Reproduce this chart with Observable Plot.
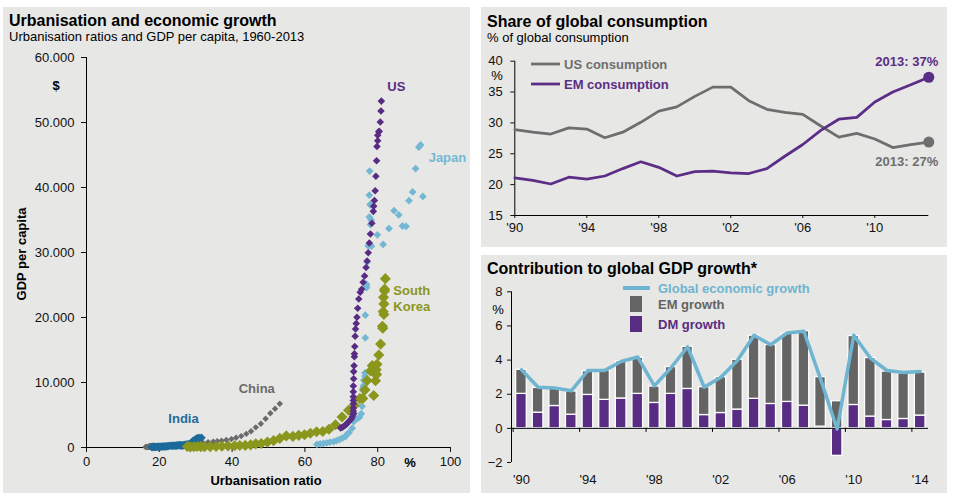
<!DOCTYPE html>
<html><head><meta charset="utf-8">
<script src="https://cdn.jsdelivr.net/npm/d3@7"></script>
<script src="https://cdn.jsdelivr.net/npm/@observablehq/plot@0.6"></script>
<style>
body{margin:0;background:#fff;font-family:"Liberation Sans",Arial,sans-serif;}
#root{position:relative;width:956px;height:504px;overflow:hidden;background:#fff;}
.panel{position:absolute;background:#e7e7e5;}
.chart{position:absolute;}
#overlay{position:absolute;left:0;top:0;pointer-events:none;}
</style></head><body>
<div id="root">
  <div class="panel" style="left:3px;top:7px;width:467px;height:486px"></div>
  <div class="panel" style="left:481px;top:7px;width:466px;height:240px"></div>
  <div class="panel" style="left:481px;top:255px;width:466px;height:238px"></div>
  <div class="chart" id="c1" style="left:0;top:0"></div>
  <div class="chart" id="c2" style="left:481px;top:7px"></div>
  <div class="chart" id="c3" style="left:481px;top:255px"></div>
</div>
<script>
// ---------- Urbanisation vs GDP per capita, 1960-2013 ----------
const usUrb = [69.8,70.2,70.6,71.0,71.4,71.8,72.3,72.7,73.0,73.2, 73.4,73.3,73.3,73.3,73.3,73.3,73.3,73.3,73.4,73.4, 73.5,73.6,73.6,73.7,73.8,73.9,74.1,74.3,74.5,74.8, 75.2,75.6,76.0,76.4,76.8,77.1,77.4,77.7,78.0,78.4, 78.8,78.9,79.1,79.3,79.5,79.7,79.8,80.0,80.3,80.0, 80.4,80.7,80.9,81.0];
const usGdp = [3007,3067,3244,3375,3574,3828,4146,4336,4696,5032, 5234,5609,6094,6726,7226,7801,8592,9453,10565,11674, 12575,13976,14434,15544,17121,18237,19071,20039,21417,22857, 23889,24342,25419,26387,27695,28691,29968,31459,32854,34515, 36330,37134,37998,39490,41725,44123,46302,48050,48570,47195, 48651,50066,51784,53291];
const jpUrb = [63.3,64.2,65.1,66.0,66.9,67.9,68.7,69.5,70.3,71.1, 71.6,72.1,73.0,73.4,74.2,75.0,75.5,75.7,75.9,76.0, 76.1,76.2,76.3,76.4,76.5,76.5,76.6,76.6,76.9,76.9, 76.9,77.1,77.4,77.7,77.7,77.8,78.0,78.0,78.3,78.2, 78.0,79.9,81.5,83.1,84.5,85.8,86.8,87.8,88.6,89.6, 90.4,91.3,91.8,92.4];
const jpGdp = [479,564,634,718,835,920,1058,1228,1450,1669, 2037,2272,2967,3998,4354,4659,5197,6335,8821,9105, 9465,10361,9578,10425,10976,11465,16882,20355,24593,24823, 25124,28541,31013,35452,38815,42522,37423,34304,30969,35004, 37300,32716,31236,33691,36442,35781,34077,34034,37972,39323, 42909,46204,46548,38634];
const krUrb = [27.7,28.5,29.5,30.4,31.4,32.4,34.0,35.6,37.2,38.9, 40.7,42.1,43.6,45.1,46.5,48.0,49.7,51.4,53.1,54.9, 56.7,58.3,59.9,61.5,63.2,64.9,66.6,68.4,70.2,72.0, 73.6,75.1,75.9,76.5,77.1,78.0,78.5,78.9,78.9,79.4, 79.6,79.7,79.8,80.3,80.8,81.3,81.5,81.6,81.7,81.4, 81.7,81.9,81.9,82.1];
const krGdp = [158,94,106,146,124,109,133,161,198,243, 279,301,324,406,563,615,830,1051,1399,1784, 1704,1870,1973,2198,2413,2457,2803,3511,4686,5738, 6516,7523,7555,8870,10310,11780,12590,11580,8000,10280, 11950,11250,12790,14220,15910,18640,20920,23100,20480,18340, 22090,24080,24360,25980];
const cnUrb = [16.2,16.6,17.0,16.8,18.0,18.1,17.9,17.7,17.6,17.5, 17.4,17.3,17.2,17.2,17.2,17.3,17.4,17.6,17.9,19.0, 19.4,20.2,21.1,21.6,23.0,22.9,24.5,25.3,25.8,26.2, 26.4,27.0,27.5,28.0,28.5,29.0,30.5,31.9,33.4,34.8, 35.9,37.1,38.4,39.8,41.1,42.5,43.9,45.2,46.5,47.9, 49.2,50.5,51.8,53.1];
const cnGdp = [90,76,70,74,85,98,104,97,91,100, 112,119,132,157,160,178,165,185,156,184, 195,197,203,225,250,294,281,251,283,310, 318,333,366,377,473,610,709,782,829,873, 959,1053,1149,1289,1509,1753,2099,2500,3100,3640, 4410,5280,5950,6720];
const inUrb = [17.9,18.0,18.1,18.2,18.4,18.6,18.8,19.0,19.2,19.5, 19.8,20.1,20.4,20.7,21.0,21.3,21.6,21.9,22.2,22.6, 23.1,23.5,23.8,24.1,24.4,24.7,24.9,25.2,25.5,25.7, 25.8,26.0,26.2,26.4,26.6,26.8,27.0,27.2,27.4,27.6, 27.7,27.9,28.1,28.4,28.6,28.8,29.0,29.3,29.5,29.8, 30.1,30.6,31.1,31.6];
const inGdp = [82,85,90,101,116,119,90,96,99,107, 112,118,123,144,163,158,161,186,206,224, 267,271,275,291,277,296,310,340,354,346, 368,303,317,301,346,374,400,415,413,442, 452,460,473,546,627,714,806,1028,999,1102, 1358,1460,1450,1500];
const urbTicks = [0,20,40,60,80,100];
const gdpTicks = [0,10000,20000,30000,40000,50000,60000];

// ---------- Share of global consumption ----------
const consYears = [1990,1991,1992,1993,1994,1995,1996,1997,1998,1999,2000,2001,2002,2003,2004,2005,2006,2007,2008,2009,2010,2011,2012,2013];
const usConsumption = [28.9,28.5,28.2,29.2,29.0,27.6,28.5,30.1,31.9,32.6,34.3,35.8,35.8,33.6,32.2,31.7,31.4,29.5,27.7,28.3,27.4,26.0,26.5,26.9];
const emConsumption = [21.1,20.7,20.1,21.2,20.9,21.4,22.6,23.7,22.8,21.4,22.1,22.2,21.9,21.8,22.6,24.6,26.5,28.8,30.6,30.9,33.4,35.0,36.2,37.4];
const consXTicks = [1990,1994,1998,2002,2006,2010];
const consYTicks = [15,20,25,30,35,40];

// ---------- Contribution to global GDP growth ----------
const barYears = [1990,1991,1992,1993,1994,1995,1996,1997,1998,1999,2000,2001,2002,2003,2004,2005,2006,2007,2008,2009,2010,2011,2012,2013,2014];
const dmGrowth = [2.02,0.92,1.31,0.80,1.96,1.67,1.75,2.02,1.49,2.02,2.31,0.78,0.90,1.10,1.73,1.43,1.55,1.33,0.10,-1.61,1.37,0.69,0.49,0.55,0.75];
const emGrowth = [1.41,1.45,1.06,1.36,1.39,1.72,2.17,2.12,0.96,1.57,2.47,1.63,2.10,2.92,3.70,3.45,4.00,4.36,2.90,1.59,4.04,3.43,2.84,2.65,2.52];
const globalGrowth = [3.43,2.41,2.37,2.20,3.39,3.39,3.92,4.18,2.49,3.55,4.78,2.41,3.00,3.98,5.45,4.90,5.59,5.69,2.90,-0.04,5.45,4.12,3.39,3.27,3.33];
const barXTicks = [1990,1994,1998,2002,2006,2010,2014];
const barYTicks = [-2,0,2,4,6,8];

// ---------- colours ----------
const C = {us:"#582c83", jp:"#74b7d3", kr:"#8a961c", cn:"#6b6b6b", in:"#1d6b9b",
           usCons:"#6e6e6e", emCons:"#5b2d86", em:"#646464", dm:"#582c83", glob:"#6fb4d0"};
const FONT = '"Liberation Sans", Arial, sans-serif';
const baseStyle = {background:"transparent", fontFamily:FONT, fontSize:"13px", color:"#111", overflow:"visible"};

const pts = (u,g) => u.map((v,i)=>({u:v, g:g[i]}));
const US = pts(usUrb,usGdp), JP = pts(jpUrb,jpGdp), KR = pts(krUrb,krGdp), CN = pts(cnUrb,cnGdp), IN = pts(inUrb,inGdp);
const fmtDot = d3.formatLocale({decimal:",", thousands:".", grouping:[3], currency:["",""]}).format(",");
const lastOf = a => [a[a.length-1]];
const lbl = {fontSize:13, fontWeight:"bold"};

const p1 = Plot.plot({
  width:470, height:493, marginLeft:86, marginRight:20, marginTop:57, marginBottom:46,
  style: baseStyle,
  x:{domain:[0,100]}, y:{domain:[0,60000]},
  marks:[
    Plot.axisY({ticks:gdpTicks, tickFormat:fmtDot, tickSize:5, tickPadding:7, label:null}),
    Plot.axisX({ticks:urbTicks, tickSize:5, tickPadding:4, label:null}),
    Plot.ruleX([urbTicks[0]], {stroke:"#000"}),
    Plot.ruleY([gdpTicks[0]], {stroke:"#000"}),
    Plot.dot(CN, {x:"u", y:"g", symbol:"diamond2", r:2.9, fill:C.cn}),
    Plot.dot(IN, {x:"u", y:"g", symbol:"diamond2", r:3.8, fill:C.in}),
    Plot.dot(JP, {x:"u", y:"g", symbol:"diamond2", r:3.5, fill:C.jp}),
    Plot.dot(KR, {x:"u", y:"g", symbol:"diamond2", r:5, fill:C.kr}),
    Plot.dot(US, {x:"u", y:"g", symbol:"diamond2", r:3.4, fill:C.us}),
    Plot.text(lastOf(US), {x:"u", y:"g", text:()=>"US", dx:6, dy:-14, textAnchor:"start", fill:C.us, ...lbl}),
    Plot.text([JP[JP.length-2]], {x:"u", y:"g", text:()=>"Japan", dx:8, dy:13, textAnchor:"start", fill:C.jp, ...lbl}),
    Plot.text(lastOf(KR), {x:"u", y:"g", text:()=>"South\nKorea", dx:8, dy:19, lineHeight:1.28, textAnchor:"start", fill:C.kr, ...lbl}),
    Plot.text(lastOf(CN), {x:"u", y:"g", text:()=>"China", dx:-23, dy:-15, textAnchor:"middle", fill:C.cn, ...lbl}),
    Plot.text(lastOf(IN), {x:"u", y:"g", text:()=>"India", dx:-18, dy:-19, textAnchor:"middle", fill:C.in, ...lbl})
  ]
});
document.getElementById("c1").appendChild(p1);

const US_C = consYears.map((y,i)=>({year:y, v:usConsumption[i]}));
const EM_C = consYears.map((y,i)=>({year:y, v:emConsumption[i]}));
const yy = d => "'" + String(d).slice(2);
const p2 = Plot.plot({
  width:466, height:240, marginLeft:33.3, marginRight:18.7, marginTop:53.7, marginBottom:32,
  style: baseStyle,
  x:{domain:[consYears[0], consYears[consYears.length-1]]}, y:{domain:[consYTicks[0], consYTicks[consYTicks.length-1]]},
  marks:[
    Plot.axisY({ticks:consYTicks, tickSize:4, tickPadding:8, label:null}),
    Plot.axisX({ticks:consXTicks, tickFormat:yy, tickSize:3, tickPadding:4, label:null}),
    Plot.ruleX([consYears[0]], {stroke:"#000"}),
    Plot.ruleY([consYTicks[0]], {stroke:"#000"}),
    Plot.line(US_C, {x:"year", y:"v", stroke:C.usCons, strokeWidth:2.75}),
    Plot.line(EM_C, {x:"year", y:"v", stroke:C.emCons, strokeWidth:2.75}),
    Plot.dot(lastOf(US_C), {x:"year", y:"v", r:5.5, fill:C.usCons}),
    Plot.dot(lastOf(EM_C), {x:"year", y:"v", r:5.5, fill:C.emCons}),
    Plot.text(lastOf(EM_C), {x:"year", y:"v", text:d=>"2013: "+Math.round(d.v)+"%", dx:-22, dy:-15, textAnchor:"middle", fill:C.emCons, ...lbl}),
    Plot.text(lastOf(US_C), {x:"year", y:"v", text:d=>"2013: "+Math.round(d.v)+"%", dx:-22, dy:20, textAnchor:"middle", fill:C.usCons, ...lbl})
  ]
});
document.getElementById("c2").appendChild(p2);

const BARS = barYears.map((y,i)=>({year:y, dm:dmGrowth[i], em:emGrowth[i], g:globalGrowth[i]}));
const xDom = [barYears[0]-0.6, barYears[barYears.length-1]+0.5];
const half = 0.32;
const boundaries = barYears.filter((d,i)=>i%4===0).map(d=>d-0.5);
const p3 = Plot.plot({
  width:466, height:238, marginLeft:30, marginRight:19, marginTop:36.3, marginBottom:31,
  style: baseStyle,
  x:{domain:xDom}, y:{domain:[barYTicks[0], barYTicks[barYTicks.length-1]]},
  marks:[
    Plot.axisY({ticks:barYTicks, tickSize:4, tickPadding:5, label:null}),
    Plot.axisX({ticks:barXTicks, tickFormat:yy, tickSize:0, tickPadding:12, label:null}),
    Plot.ruleX([xDom[0]], {stroke:"#000"}),
    Plot.rect(BARS, {x1:d=>d.year-half, x2:d=>d.year+half, y1:0, y2:"dm", fill:C.dm, stroke:"#fff", strokeWidth:1.3}),
    Plot.rect(BARS, {x1:d=>d.year-half, x2:d=>d.year+half, y1:d=>Math.max(0,d.dm), y2:d=>Math.max(0,d.dm)+d.em, fill:C.em, stroke:"#fff", strokeWidth:1.3}),
    Plot.ruleY([0], {stroke:"#000"}),
    Plot.ruleX(boundaries, {y1:0, y2:0, insetBottom:-4, stroke:"#000"}),
    Plot.line(BARS, {x:"year", y:"g", stroke:C.glob, strokeWidth:3.5})
  ]
});
document.getElementById("c3").appendChild(p3);

// ---------- overlay texts & legends ----------
const svg = d3.select("#root").append("svg").attr("id","overlay").attr("width",956).attr("height",504)
  .style("font-family", FONT);
function t(x,y,s,o={}) {
  const e = svg.append("text").attr("x",x).attr("y",y).text(s)
    .attr("font-size", o.size||13).attr("font-weight", o.bold?"bold":"normal")
    .attr("fill", o.fill||"#000").attr("text-anchor", o.anchor||"start");
  if (o.rotate) e.attr("transform", `rotate(${o.rotate},${x},${y})`);
  return e;
}
t(9,26,"Urbanisation and economic growth",{size:16,bold:true});
t(9,41,"Urbanisation ratios and GDP per capita, 1960-2013",{size:13});
t(56,90,"$",{bold:true,anchor:"middle"});
t(26,254,"GDP per capita",{bold:true,anchor:"middle",rotate:-90});
t(410,467,"%",{bold:true,anchor:"middle"});
t(266,485,"Urbanisation ratio",{bold:true,anchor:"middle"});

t(487,27,"Share of global consumption",{size:16,bold:true});
t(487,42,"% of global consumption",{size:13});
t(497,80,"%",{anchor:"middle"});
svg.append("line").attr("x1",531).attr("x2",560).attr("y1",64).attr("y2",64).attr("stroke",C.usCons).attr("stroke-width",2.75);
t(564,68.5,"US consumption",{bold:true,fill:C.usCons});
svg.append("line").attr("x1",531).attr("x2",560).attr("y1",84).attr("y2",84).attr("stroke",C.emCons).attr("stroke-width",2.75);
t(564,88.5,"EM consumption",{bold:true,fill:C.emCons});

t(487,274,"Contribution to global GDP growth*",{size:16,bold:true});
t(498,314,"%",{anchor:"middle"});
svg.append("line").attr("x1",623).attr("x2",650).attr("y1",288).attr("y2",288).attr("stroke",C.glob).attr("stroke-width",4);
t(658,292.5,"Global economic growth",{bold:true,fill:C.glob});
svg.append("rect").attr("x",630).attr("y",296).attr("width",12).attr("height",16).attr("fill",C.em);
t(658,308.5,"EM growth",{bold:true,fill:C.em});
svg.append("rect").attr("x",630).attr("y",316).attr("width",12).attr("height",16).attr("fill",C.dm);
t(658,328.5,"DM growth",{bold:true,fill:C.dm});
</script>
</body></html>
